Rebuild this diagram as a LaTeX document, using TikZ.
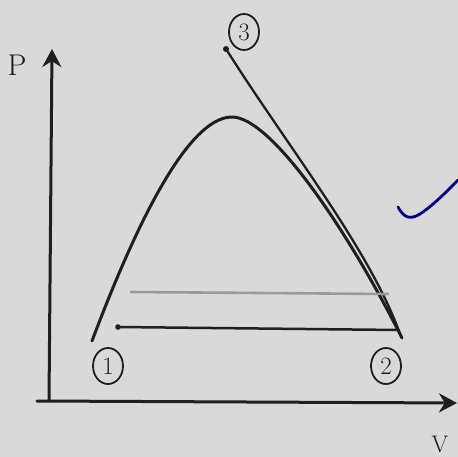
\documentclass[tikz,border=0pt]{standalone}
\usetikzlibrary{arrows.meta,shapes.geometric}
\begin{document}
\begin{tikzpicture}[x=1pt,y=-1pt,
  ink/.style={line width=3pt,color=black!88,line cap=round,line join=round},
  faint/.style={line width=2.6pt,color=black!40,line cap=round},
  circnum/.style={draw,ellipse,line width=1.8pt,inner sep=0pt,minimum width=30pt,minimum height=36pt,font=\fontsize{25}{25}\selectfont,text=black!88,draw=black!88},
  axlabel/.style={text=black!90,inner sep=1pt}]
\fill[black!15] (0,0) rectangle (458,457);
\useasboundingbox (0,0) rectangle (458,457);
% axes
\coordinate (O) at (37,401);
\coordinate (ytop) at (52,49);
\coordinate (ybot) at (49,401);
\coordinate (xend) at (457,403);
\draw[ink,-{Stealth[length=18pt,width=19pt]}] (ybot) -- (ytop);
\draw[ink,-{Stealth[length=18pt,width=19pt]}] (O) -- (xend);
\node[axlabel,font=\fontsize{30}{30}\selectfont] (P) at (17,65) {P};
\node[axlabel,font=\fontsize{24}{24}\selectfont] (V) at (440,444) {V};
% dome
\coordinate (p1) at (92,341);
\coordinate (top) at (232,117);
\coordinate (p2) at (402,338);
\draw[ink] (p1) .. controls (130,240) and (185,117) .. (top)
                .. controls (270,117) and (345,225) .. (p2);
% line from 3
\coordinate (p3) at (226,49);
\coordinate (p3end) at (400,334);
\draw[ink,line width=2.3pt] (p3) .. controls (290,150) and (370,250) .. (p3end);
\fill[black!88] (p3) circle (3pt);
% horizontal lines
\coordinate (h1a) at (118,327);
\coordinate (h1b) at (399,330);
\draw[ink,line width=2.5pt] (h1a) -- (h1b);
\fill[black!88] (h1a) circle (2.8pt);
\coordinate (h2a) at (131,292);
\coordinate (h2b) at (388,294);
\draw[faint] (h2a) -- (h2b);
% circled labels
\node[circnum] (n1) at (108,366) {1};
\node[circnum] (n2) at (386,366) {2};
\node[circnum] (n3) at (244,32) {3};
% check mark
\draw[line width=2.8pt,color=blue!50!black,line cap=round,line join=round] (398,207) .. controls (404,218) and (410,220) .. (420,214) .. controls (435,204) and (448,190) .. (458,180);
\end{tikzpicture}
\end{document}
